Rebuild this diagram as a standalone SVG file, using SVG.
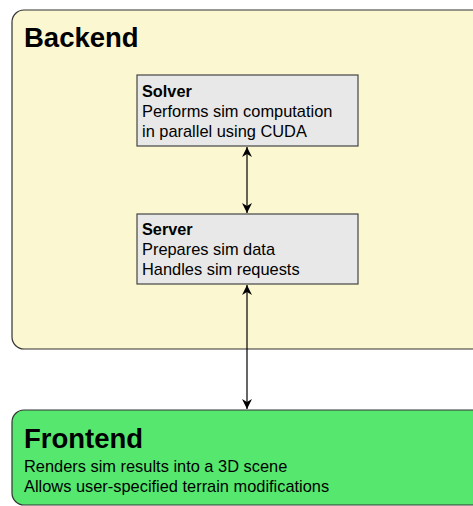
<svg xmlns="http://www.w3.org/2000/svg" width="473" height="506" viewBox="0 0 473 506">
  <style>
    .group { stroke: #333; stroke-width: 1.2; }
    .box { fill: #e8e8e8; stroke: #444; stroke-width: 1.2; }
    .title { font-family: "Liberation Sans", Arial, sans-serif; font-weight: bold; font-size: 27.5px; fill: #000; }
    .head { font-family: "Liberation Sans", Arial, sans-serif; font-weight: bold; font-size: 16.3px; fill: #000; }
    .body { font-family: "Liberation Sans", Arial, sans-serif; font-size: 16.4px; fill: #000; }
    .conn { stroke: #000; stroke-width: 1.2; fill: none; marker-start: url(#arrow); marker-end: url(#arrow); }
  </style>
  <defs>
    <marker id="arrow" viewBox="0 0 10 10" refX="10" refY="5" markerWidth="10" markerHeight="10" markerUnits="userSpaceOnUse" orient="auto-start-reverse">
      <path d="M0,0 L10,5 L0,10 L3,5 Z" fill="#000"/>
    </marker>
  </defs>

  <g id="backend">
    <rect class="group" x="12" y="10" width="475" height="339" rx="12" fill="#faf7d1"/>
    <text class="title" x="24" y="47">Backend</text>
  </g>

  <g id="frontend">
    <rect class="group" x="12" y="410" width="475" height="95" rx="12" fill="#56e86e"/>
    <text class="title" x="24" y="448">Frontend</text>
    <text class="body" x="24" y="472">Renders sim results into a 3D scene</text>
    <text class="body" x="24" y="492">Allows user-specified terrain modifications</text>
  </g>

  <g id="solver">
    <rect class="box" x="137" y="75" width="221" height="71"/>
    <text class="head" x="142" y="97">Solver</text>
    <text class="body" x="142" y="117">Performs sim computation</text>
    <text class="body" x="142" y="137">in parallel using CUDA</text>
  </g>

  <g id="server">
    <rect class="box" x="137" y="214" width="221" height="70"/>
    <text class="head" x="142" y="235">Server</text>
    <text class="body" x="142" y="255">Prepares sim data</text>
    <text class="body" x="142" y="275">Handles sim requests</text>
  </g>

  <g id="connectors">
    <line class="conn" x1="247" y1="147" x2="247" y2="213"/>
    <line class="conn" x1="247" y1="285" x2="247" y2="409"/>
  </g>
</svg>
